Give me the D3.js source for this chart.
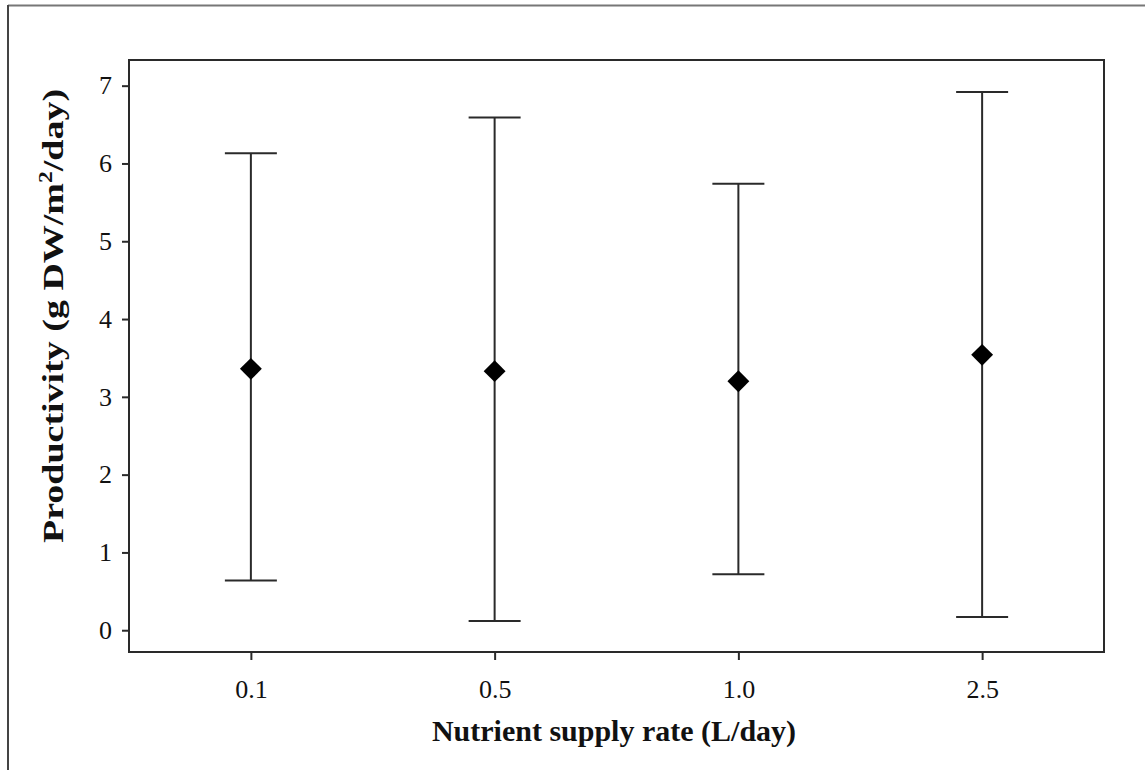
<!DOCTYPE html>
<html>
<head>
<meta charset="utf-8">
<script src="https://cdn.jsdelivr.net/npm/d3@7"></script>
<style>
  html, body { margin: 0; padding: 0; background: #fff; }
  svg { display: block; }
</style>
</head>
<body>
<script>
// Productivity by nutrient supply rate: mean with range bars
const categories = ["0.1", "0.5", "1.0", "2.5"];
const means = [3.36, 3.33, 3.20, 3.54];
const upper = [6.13, 6.59, 5.74, 6.92];
const lower = [0.64, 0.12, 0.72, 0.17];
const yTicks = [0, 1, 2, 3, 4, 5, 6, 7];

const W = 1145, H = 770;
const frame = { left: 129, right: 1104, top: 60, bottom: 652 };
const ink = "#2a2a2a";
const serif = "'Liberation Serif', 'Times New Roman', serif";

const svg = d3.select("body").append("svg")
  .attr("width", W).attr("height", H);

// outer page frame (top and left edges)
svg.append("line").attr("x1", 8).attr("x2", W).attr("y1", 5.5).attr("y2", 5.5)
  .attr("stroke", "#777").attr("stroke-width", 2);
svg.append("line").attr("x1", 8).attr("x2", 8).attr("y1", 5).attr("y2", H)
  .attr("stroke", "#444").attr("stroke-width", 2);

const x = d3.scalePoint().domain(categories)
  .range([frame.left, frame.right]).padding(0.5);
const y = d3.scaleLinear().domain([-0.28, 7.33])
  .range([frame.bottom, frame.top]);

// plot box
svg.append("rect")
  .attr("x", frame.left).attr("y", frame.top)
  .attr("width", frame.right - frame.left)
  .attr("height", frame.bottom - frame.top)
  .attr("fill", "none").attr("stroke", ink).attr("stroke-width", 2);

// axes
const yAxis = svg.append("g")
  .attr("transform", `translate(${frame.left},0)`)
  .call(d3.axisLeft(y).tickValues(yTicks).tickFormat(d3.format("d"))
    .tickSize(7).tickPadding(10));
const xAxis = svg.append("g")
  .attr("transform", `translate(0,${frame.bottom})`)
  .call(d3.axisBottom(x).tickSize(8).tickPadding(20));

[yAxis, xAxis].forEach(g => {
  g.select(".domain").remove();
  g.selectAll(".tick line").attr("stroke", ink).attr("stroke-width", 2);
  g.selectAll(".tick text")
    .attr("fill", "#111")
    .style("font-family", serif)
    .style("font-size", "26px");
});

// range bars
const idx = d3.range(categories.length);
const capHalf = 26;
const bars = svg.append("g").attr("stroke", ink).attr("stroke-width", 2);
bars.selectAll(".stem").data(idx).join("line")
  .attr("x1", i => x(categories[i])).attr("x2", i => x(categories[i]))
  .attr("y1", i => y(upper[i])).attr("y2", i => y(lower[i]));
bars.selectAll(".capTop").data(idx).join("line")
  .attr("x1", i => x(categories[i]) - capHalf).attr("x2", i => x(categories[i]) + capHalf)
  .attr("y1", i => y(upper[i])).attr("y2", i => y(upper[i]));
bars.selectAll(".capBottom").data(idx).join("line")
  .attr("x1", i => x(categories[i]) - capHalf).attr("x2", i => x(categories[i]) + capHalf)
  .attr("y1", i => y(lower[i])).attr("y2", i => y(lower[i]));

// mean markers
const diamond = d3.symbol().type(d3.symbolSquare).size(240);
svg.append("g").selectAll("path").data(idx).join("path")
  .attr("d", diamond)
  .attr("transform", i => `translate(${x(categories[i])},${y(means[i])}) rotate(45)`)
  .attr("fill", "#000");

// axis titles
svg.append("text")
  .attr("x", 614).attr("y", 741)
  .attr("text-anchor", "middle")
  .style("font-family", serif).style("font-size", "30px").style("font-weight", "bold")
  .attr("fill", "#111")
  .text("Nutrient supply rate (L/day)");

// vertical title is drawn slightly stretched along its length
const yt = svg.append("text")
  .attr("transform", `translate(63,316) rotate(-90) scale(1.31,1)`)
  .attr("text-anchor", "middle")
  .style("font-family", serif).style("font-size", "29px").style("font-weight", "bold")
  .attr("fill", "#111");
yt.append("tspan").text("Productivity (g DW/m");
yt.append("tspan").attr("dy", -11).style("font-size", "18px").text("2");
yt.append("tspan").attr("dy", 11).text("/day)");
</script>
</body>
</html>
